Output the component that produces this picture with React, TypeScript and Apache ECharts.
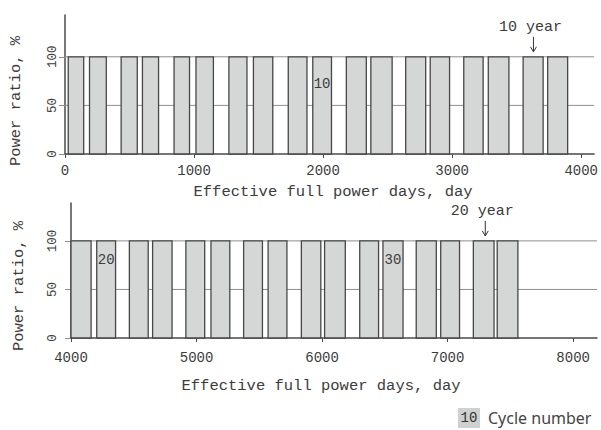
import React, { useEffect, useRef } from "react";
import * as echarts from "echarts";

// ---- data ----
const POWER_RATIO = 100;
const topCycleStarts = [25, 190, 435, 600, 845, 1015, 1270, 1460, 1730, 1920, 2180, 2370, 2640, 2830, 3090, 3280, 3550, 3740];
const topCycleEnds = [145, 320, 560, 725, 965, 1150, 1410, 1610, 1875, 2065, 2335, 2535, 2795, 2980, 3240, 3440, 3705, 3895];
const topFirstCycle = 1;
const bottomCycleStarts = [4000, 4205, 4465, 4650, 4915, 5115, 5375, 5570, 5835, 6020, 6300, 6485, 6750, 6945, 7205, 7395];
const bottomCycleEnds = [4160, 4355, 4615, 4805, 5065, 5265, 5525, 5720, 5990, 6185, 6450, 6645, 6910, 7095, 7370, 7560];
const bottomFirstCycle = 19;
const labeledCycles = [10, 20, 30];
const yearMarkDays = [3630, 7300];
const yearMarkLabels = ["10 year", "20 year"];
const topXTicks = [0, 1000, 2000, 3000, 4000];
const bottomXTicks = [4000, 5000, 6000, 7000, 8000];
const yTicks = [0, 50, 100];
const gridLineValues = [50, 100];

const MONO = '"Liberation Mono", "DejaVu Sans Mono", monospace';
const TEXT = "#3c3c3c";
const AXIS = "#4a4a4a";

export default function App() {
  const ref = useRef<HTMLDivElement>(null);
  useEffect(() => {
    document.body.style.margin = "0";
    const chart = echarts.init(ref.current!, null, { renderer: "svg" });

    const barSeries = (idx: number, starts: number[], ends: number[], first: number, labelRatio: number) => ({
      type: "custom",
      xAxisIndex: idx,
      yAxisIndex: idx,
      z: 3,
      clip: false,
      encode: { x: [0, 1], y: 2 },
      data: starts.map((s, i) => [s, ends[i], POWER_RATIO]),
      renderItem: (params: any, api: any) => {
        const s = api.value(0);
        const e = api.value(1);
        const h = api.value(2);
        const p0 = api.coord([s, 0]);
        const p1 = api.coord([e, h]);
        const children: any[] = [
          {
            type: "rect",
            shape: { x: p0[0], y: p1[1], width: p1[0] - p0[0], height: p0[1] - p1[1] },
            style: { fill: "#d5d7d7", stroke: "#474747", lineWidth: 1.3 },
          },
        ];
        const cycle = first + params.dataIndex;
        if (labeledCycles.indexOf(cycle) >= 0) {
          const lp = api.coord([(s + e) / 2, labelRatio]);
          children.push({
            type: "text",
            style: {
              text: String(cycle),
              x: lp[0],
              y: lp[1],
              align: "center",
              verticalAlign: "middle",
              font: `14px ${MONO}`,
              fill: TEXT,
            },
          });
        }
        return { type: "group", children };
      },
    });

    const gridSeries = (idx: number, xMin: number) => ({
      type: "custom",
      xAxisIndex: idx,
      yAxisIndex: idx,
      z: 1,
      encode: { x: 0, y: 1 },
      data: gridLineValues.map((v) => [xMin, v]),
      renderItem: (params: any, api: any) => {
        const cs = params.coordSys;
        const y = api.coord([api.value(0), api.value(1)])[1];
        return {
          type: "line",
          shape: { x1: cs.x, y1: y, x2: cs.x + cs.width, y2: y },
          style: { stroke: "#8e8e8e", lineWidth: 1 },
        };
      },
    });

    const yearSeries = (idx: number, dayIdx: number) => ({
      type: "custom",
      xAxisIndex: idx,
      yAxisIndex: idx,
      z: 4,
      clip: false,
      encode: { x: 0, y: 1 },
      data: [[yearMarkDays[dayIdx], POWER_RATIO]],
      renderItem: (params: any, api: any) => {
        const p = api.coord([api.value(0), api.value(1)]);
        const x = p[0];
        const tip = p[1] - 5;
        return {
          type: "group",
          children: [
            {
              type: "text",
              style: {
                text: yearMarkLabels[dayIdx],
                x: x - 3,
                y: p[1] - 29,
                align: "center",
                verticalAlign: "middle",
                font: `15px ${MONO}`,
                fill: TEXT,
              },
            },
            { type: "line", shape: { x1: x, y1: tip - 15, x2: x, y2: tip }, style: { stroke: "#333", lineWidth: 1 } },
            {
              type: "polyline",
              shape: { points: [[x - 3, tip - 5], [x, tip], [x + 3, tip - 5]] },
              style: { stroke: "#333", lineWidth: 1, fill: "none" },
            },
          ],
        };
      },
    });

    const xAxis = (idx: number, min: number, max: number, ticks: number[], margin: number) => ({
      type: "value",
      gridIndex: idx,
      min,
      max,
      interval: 1000,
      axisLine: { show: true, onZero: false, lineStyle: { color: AXIS, width: 1.5 } },
      axisTick: { show: true, length: 4, customValues: ticks, lineStyle: { color: AXIS } },
      axisLabel: {
        customValues: ticks,
        margin,
        color: TEXT,
        fontFamily: MONO,
        fontSize: 14,
        formatter: (v: number) => (ticks.indexOf(v) >= 0 ? String(v) : ""),
      },
      splitLine: { show: false },
    });

    const yAxis = (idx: number, max: number, margin: number) => ({
      type: "value",
      gridIndex: idx,
      min: 0,
      max,
      interval: 50,
      axisLine: { show: true, lineStyle: { color: AXIS, width: 1.5 } },
      axisTick: { show: true, length: 6, customValues: yTicks, lineStyle: { color: "#8e8e8e" } },
      axisLabel: {
        customValues: yTicks,
        rotate: 90,
        margin,
        color: TEXT,
        fontFamily: MONO,
        fontSize: 12.5,
        formatter: (v: number) => (yTicks.indexOf(v) >= 0 ? String(v) : ""),
      },
      splitLine: { show: false },
    });

    const nameText = (text: string, x: number, y: number, rotation = 0) => ({
      type: "text",
      x,
      y,
      rotation,
      style: { text, align: "center", verticalAlign: "middle", font: `15.5px ${MONO}`, fill: TEXT },
    });

    chart.setOption({
      animation: false,
      backgroundColor: "#ffffff",
      grid: [
        { left: 65, right: 6, top: 15, bottom: 276 },
        { left: 71, right: 4, top: 203, bottom: 92 },
      ],
      xAxis: [xAxis(0, 0, 4100, topXTicks, 10), xAxis(1, 4000, 8190, bottomXTicks, 13)],
      yAxis: [yAxis(0, 143, 6), yAxis(1, 139, 12)],
      series: [
        gridSeries(0, 0),
        gridSeries(1, 4000),
        barSeries(0, topCycleStarts, topCycleEnds, topFirstCycle, 72),
        barSeries(1, bottomCycleStarts, bottomCycleEnds, bottomFirstCycle, 80),
        yearSeries(0, 0),
        yearSeries(1, 1),
      ],
      graphic: [
        nameText("Effective full power days, day", 333, 192),
        nameText("Effective full power days, day", 321, 386),
        nameText("Power ratio, %", 15.5, 101, Math.PI / 2),
        nameText("Power ratio, %", 18.5, 286, Math.PI / 2),
        { type: "rect", shape: { x: 458, y: 408, width: 22, height: 20 }, style: { fill: "#cfd0d0" } },
        {
          type: "text",
          x: 469,
          y: 418,
          style: { text: "10", align: "center", verticalAlign: "middle", font: `14px ${MONO}`, fill: "#333" },
        },
        {
          type: "text",
          x: 488,
          y: 418,
          style: { text: "Cycle number", align: "left", verticalAlign: "middle", font: '16px "Noto Sans", sans-serif', fill: "#444" },
        },
      ],
    });
    return () => chart.dispose();
  }, []);
  return <div ref={ref} style={{ width: 601, height: 430 }} />;
}
